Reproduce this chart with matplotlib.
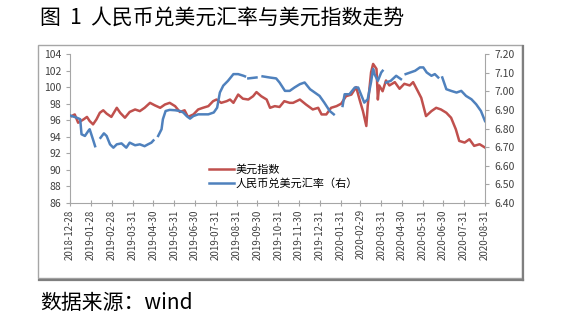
import numpy as np
import pandas as pd
import matplotlib
matplotlib.use("Agg")
import matplotlib.pyplot as plt
from matplotlib.patches import Rectangle
from matplotlib.lines import Line2D

plt.rcParams['font.family'] = ['Noto Sans CJK SC', 'DejaVu Sans']

# 美元指数 (left axis)
usd_dates = ["2018-12-28", "2019-01-04", "2019-01-09", "2019-01-17", "2019-01-22", "2019-01-26",
             "2019-01-31", "2019-02-05", "2019-02-10", "2019-02-15", "2019-02-20", "2019-02-27",
             "2019-03-07", "2019-03-12", "2019-03-19", "2019-03-26", "2019-04-03", "2019-04-10",
             "2019-04-17", "2019-04-25", "2019-05-02", "2019-05-10", "2019-05-17", "2019-05-24",
             "2019-06-01", "2019-06-08", "2019-06-15", "2019-06-20", "2019-06-28", "2019-07-05",
             "2019-07-12", "2019-07-20", "2019-07-27", "2019-08-01", "2019-08-08", "2019-08-16",
             "2019-08-21", "2019-08-26", "2019-09-02", "2019-09-09", "2019-09-17", "2019-09-24",
             "2019-09-29", "2019-10-06", "2019-10-14", "2019-10-19", "2019-10-26", "2019-11-02",
             "2019-11-09", "2019-11-17", "2019-11-22", "2019-12-02", "2019-12-11", "2019-12-21",
             "2019-12-29", "2020-01-03", "2020-01-10", "2020-01-17", "2020-01-25", "2020-02-01",
             "2020-02-08", "2020-02-16", "2020-02-23", "2020-02-28", "2020-03-04", "2020-03-09",
             "2020-03-11", "2020-03-16", "2020-03-19", "2020-03-24", "2020-03-26", "2020-03-28",
             "2020-04-02", "2020-04-07", "2020-04-12", "2020-04-20", "2020-04-27", "2020-05-04",
             "2020-05-12", "2020-05-17", "2020-05-24", "2020-05-29", "2020-06-05", "2020-06-13",
             "2020-06-20", "2020-06-27", "2020-07-05", "2020-07-12", "2020-07-19", "2020-07-24",
             "2020-08-01", "2020-08-08", "2020-08-15", "2020-08-23", "2020-08-31"]
usd_vals = [96.4, 96.7, 95.7, 96.1, 96.4, 95.9,
            95.5, 96.1, 96.9, 97.2, 96.8, 96.4,
            97.5, 96.9, 96.3, 97.0, 97.3, 97.1,
            97.5, 98.1, 97.8, 97.5, 97.9, 98.1,
            97.7, 97.0, 97.2, 96.4, 96.7, 97.3,
            97.5, 97.7, 98.3, 98.5, 98.1, 98.3,
            98.5, 98.1, 99.1, 98.6, 98.5, 98.9,
            99.4, 98.9, 98.5, 97.5, 97.7, 97.6,
            98.3, 98.1, 98.1, 98.5, 97.9, 97.3,
            97.5, 96.7, 96.7, 97.5, 97.7, 98.0,
            98.9, 99.1, 100.0, 98.5, 97.1, 95.3,
            97.7, 101.8, 102.8, 102.2, 98.5, 100.2,
            99.5, 100.8, 100.2, 100.6, 99.8, 100.4,
            100.2, 100.6, 99.5, 98.7, 96.5, 97.1,
            97.5, 97.3, 96.9, 96.3, 94.9, 93.5,
            93.3, 93.7, 92.9, 93.1, 92.7]

# 人民币兑美元汇率 (right axis), None = holiday gap
cny_dates = ["2018-12-28", "2019-01-07", "2019-01-12", "2019-01-14", "2019-01-19", "2019-01-24",
             "2019-01-26", "2019-01-31", "2019-02-03", "2019-02-07", "2019-02-11", "2019-02-16",
             "2019-02-20", "2019-02-25", "2019-03-02", "2019-03-07", "2019-03-14", "2019-03-21",
             "2019-03-26", "2019-04-03", "2019-04-10", "2019-04-17", "2019-04-22", "2019-04-27",
             "2019-04-30", "2019-05-03", "2019-05-07", "2019-05-12", "2019-05-14", "2019-05-18",
             "2019-05-24", "2019-06-01", "2019-06-08", "2019-06-13", "2019-06-18", "2019-06-23",
             "2019-06-28", "2019-07-05", "2019-07-13", "2019-07-20", "2019-07-28", "2019-08-02",
             "2019-08-06", "2019-08-11", "2019-08-18", "2019-08-26", "2019-09-02", "2019-09-10",
             "2019-09-12", "2019-09-14", "2019-09-17", "2019-09-29", "2019-10-03", "2019-10-08",
             "2019-10-18", "2019-10-28", "2019-11-02", "2019-11-10", "2019-11-17", "2019-11-24",
             "2019-12-02", "2019-12-09", "2019-12-17", "2019-12-24", "2019-12-31", "2020-01-07",
             "2020-01-15", "2020-01-21", "2020-01-27", "2020-02-03", "2020-02-06", "2020-02-13",
             "2020-02-21", "2020-02-26", "2020-03-02", "2020-03-06", "2020-03-11", "2020-03-16",
             "2020-03-19", "2020-03-21", "2020-03-26", "2020-03-31", "2020-04-02", "2020-04-04",
             "2020-04-07", "2020-04-14", "2020-04-22", "2020-04-29", "2020-05-02", "2020-05-06",
             "2020-05-13", "2020-05-20", "2020-05-27", "2020-06-01", "2020-06-06", "2020-06-13",
             "2020-06-18", "2020-06-23", "2020-06-25", "2020-06-29", "2020-07-05", "2020-07-12",
             "2020-07-20", "2020-07-27", "2020-08-03", "2020-08-11", "2020-08-18", "2020-08-25",
             "2020-08-31"]
cny_vals = [6.87, 6.858, 6.85, 6.769, 6.76, 6.787,
            6.796, 6.74, 6.705, None, 6.75, 6.774,
            6.76, 6.715, 6.697, 6.715, 6.72, 6.697,
            6.724, 6.71, 6.715, 6.705, 6.715, 6.724,
            6.736, None, 6.76, 6.796, 6.85, 6.894,
            6.90, 6.898, 6.894, 6.886, 6.867, 6.853,
            6.867, 6.876, 6.876, 6.876, 6.886, 6.912,
            6.993, 7.03, 7.056, 7.092, 7.092, 7.083,
            7.08, None, 7.069, 7.074, None, 7.08,
            7.074, 7.069, 7.047, 7.002, 7.002, 7.02,
            7.038, 7.047, 7.011, 6.993, 6.975, 6.939,
            6.894, 6.876, None, 6.921, 6.984, 6.984,
            7.02, 7.02, 6.975, 6.939, 6.957, 7.05,
            7.12, 7.092, 7.056, 7.101, 7.11, None,
            7.047, 7.056, 7.083, 7.065, None, 7.092,
            7.101, 7.11, 7.128, 7.128, 7.101, 7.083,
            7.092, 7.074, None, 7.074, 7.011, 7.002,
            6.993, 7.002, 6.975, 6.957, 6.93, 6.894,
            6.84]

tick_dates = ["2018-12-28", "2019-01-28", "2019-02-28", "2019-03-31", "2019-04-30", "2019-05-31",
              "2019-06-30", "2019-07-31", "2019-08-31", "2019-09-30", "2019-10-31", "2019-11-30",
              "2019-12-31", "2020-01-31", "2020-02-29", "2020-03-31", "2020-04-30", "2020-05-31",
              "2020-06-30", "2020-07-31", "2020-08-31"]

red = '#c0504d'
blue = '#4f81bd'
axis_gray = '#a6a6a6'
txt = '#404040'

fig = plt.figure(figsize=(5.61, 3.22), dpi=100)

# outer frame with shadow
W, H = 561, 322
fig.add_artist(Line2D([39 / W, 523 / W], [1 - 279.5 / H, 1 - 279.5 / H], color='#7f7f7f', lw=1.6))
fig.add_artist(Line2D([523 / W, 523 / W], [1 - 279.5 / H, 1 - 46 / H], color='#7f7f7f', lw=1.6))
fig.add_artist(Rectangle((38 / W, 1 - 278 / H), (522 - 38) / W, (278 - 45) / H,
                         transform=fig.transFigure, fill=False, edgecolor='#a6a6a6', lw=1))

ax = fig.add_axes([70 / W, 1 - 203 / H, (485 - 70) / W, (203 - 54) / H])
ax2 = ax.twinx()

x_usd = pd.to_datetime(usd_dates)
x_cny = pd.to_datetime(cny_dates)
y_cny = np.array([np.nan if v is None else v for v in cny_vals], dtype=float)

l1, = ax.plot(x_usd, usd_vals, color=red, lw=1.8, label='美元指数')
l2, = ax2.plot(x_cny, y_cny, color=blue, lw=1.8, label='人民币兑美元汇率（右）')

ax.set_ylim(86, 104)
ax.set_yticks(np.arange(86, 105, 2))
ax2.set_ylim(6.40, 7.20)
ax2.set_yticks(np.arange(6.40, 7.201, 0.10))
ax2.set_yticklabels(['%.2f' % v for v in np.arange(6.40, 7.201, 0.10)])

ticks = pd.to_datetime(tick_dates)
ax.set_xlim(ticks[0], ticks[-1])
ax.set_xticks(ticks)
ax.set_xticklabels(tick_dates, rotation=90)

for a in (ax, ax2):
    a.spines['top'].set_visible(False)
    for s in ('left', 'right', 'bottom'):
        a.spines[s].set_color(axis_gray)
        a.spines[s].set_linewidth(0.8)
    a.tick_params(colors=axis_gray, labelcolor=txt, labelsize=7.5, length=3, width=0.8)
ax.tick_params(axis='x', direction='inout', length=5, labelsize=7, pad=2)
ax.spines['right'].set_visible(False)
ax2.spines['left'].set_visible(False)
ax2.spines['bottom'].set_visible(False)

ax.legend(handles=[l1, l2], loc='upper left', bbox_to_anchor=(0.325, 0.29), frameon=False,
          fontsize=8, handlelength=2.2, handletextpad=0.2, labelspacing=0.3, borderaxespad=0)

fig.text(40 / W, 1 - 18 / H, '图  1  人民币兑美元汇率与美元指数走势', fontsize=15, va='center', ha='left', color='black')
fig.text(40 / W, 1 - 303 / H, '数据来源：wind', fontsize=15, va='center', ha='left', color='black')

fig.savefig('out.png', dpi=100)
